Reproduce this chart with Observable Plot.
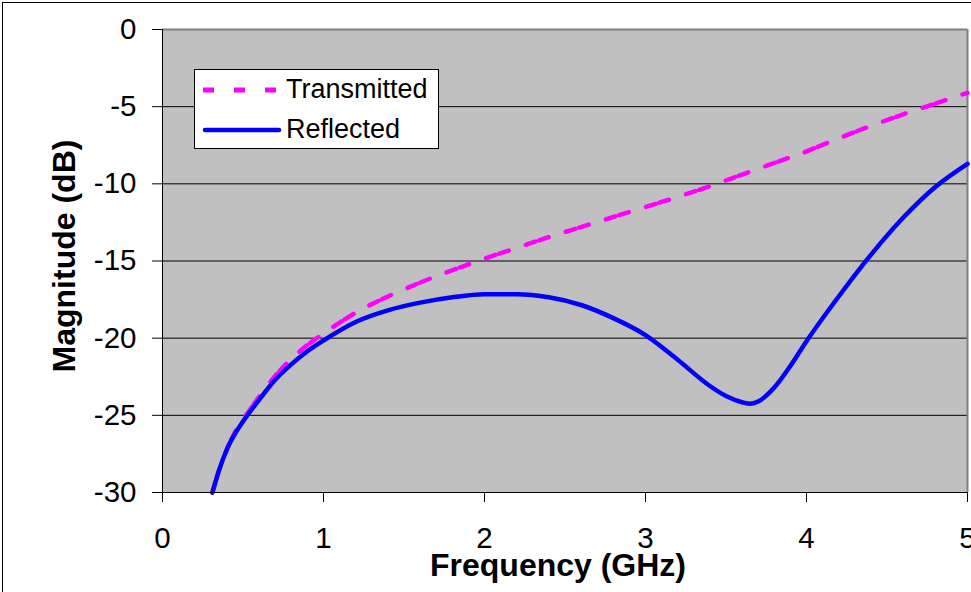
<!DOCTYPE html>
<html>
<head>
<meta charset="utf-8">
<script src="https://cdn.jsdelivr.net/npm/d3@7"></script>
<script src="https://cdn.jsdelivr.net/npm/@observablehq/plot@0.6"></script>
<style>
  html, body { margin: 0; padding: 0; background: #fff; overflow: hidden; }
  #wrap { position: relative; width: 971px; height: 592px; font-family: "Liberation Sans", Arial, sans-serif; }
  #border { position: absolute; left: 2px; top: 2px; width: 2000px; height: 2000px; border-left: 1.5px solid #000; border-top: 1.5px solid #000; pointer-events: none; }
  #legend { position: absolute; left: 194px; top: 69px; width: 245px; height: 80px; box-sizing: border-box; background: #fff; border: 1px solid #000; }
  #legend svg { position: absolute; left: 0; top: 0; }
  .lt { position: absolute; left: 91px; font-size: 27px; line-height: 27px; color: #000; white-space: nowrap; }
</style>
</head>
<body>
<div id="wrap">
  <div id="chart"></div>
  <div id="border"></div>
  <div id="legend">
    <svg width="245" height="80">
      <line x1="8" x2="84" y1="20" y2="20" stroke="#ff00ff" stroke-width="5" stroke-dasharray="11,20"></line>
      <line x1="10" x2="84" y1="60" y2="60" stroke="#0000ff" stroke-width="4.5" stroke-linecap="round"></line>
    </svg>
    <div class="lt" id="lt0" style="top:6px"></div>
    <div class="lt" id="lt1" style="top:46px"></div>
  </div>
</div>
<script>
// ---- data ----
const seriesNames = ["Transmitted", "Reflected"];

const freqT = [0.31, 0.35, 0.4, 0.45, 0.5, 0.6, 0.7, 0.8, 0.9, 1.0, 1.2, 1.4, 1.6, 1.8, 2.0,
               2.2, 2.4, 2.6, 2.8, 3.0, 3.2, 3.4, 3.6, 3.8, 4.0, 4.2, 4.4, 4.6, 4.8, 5.0];
const magT  = [-30, -28.6, -27.2, -26.1, -25.3, -23.8, -22.45, -21.35, -20.45, -19.7, -18.35, -17.3, -16.4, -15.6, -14.85,
               -14.15, -13.45, -12.8, -12.15, -11.5, -10.85, -10.15, -9.4, -8.65, -7.9, -7.05, -6.25, -5.5, -4.8, -4.1];

const freqR = [0.31, 0.35, 0.4, 0.45, 0.5, 0.6, 0.7, 0.8, 0.9, 1.0, 1.2, 1.4, 1.6, 1.8, 2.0,
               2.2, 2.4, 2.6, 2.8, 3.0, 3.2, 3.4, 3.5, 3.6, 3.65, 3.7, 3.8, 3.9, 4.0, 4.2, 4.4, 4.6, 4.8, 5.0];
const magR  = [-30, -28.6, -27.2, -26.2, -25.4, -24.0, -22.7, -21.7, -20.85, -20.15, -18.95, -18.2, -17.7, -17.35, -17.15,
               -17.15, -17.35, -17.85, -18.7, -19.8, -21.4, -23.1, -23.75, -24.15, -24.25, -24.1, -23.2, -21.8, -20.2, -17.3, -14.6, -12.2, -10.2, -8.7];

const xTicks = [0, 1, 2, 3, 4, 5];
const xTickLabels = ["0", "1", "2", "3", "4", "5"];
const yTicks = [0, -5, -10, -15, -20, -25, -30];
const yTickLabels = ["0", "-5", "-10", "-15", "-20", "-25", "-30"];
const xTitle = "Frequency (GHz)";
const yTitle = "Magnitude (dB)";

// ---- build tables ----
const dataT = freqT.map((f, i) => ({f, v: magT[i]}));
const dataR = freqR.map((f, i) => ({f, v: magR[i]}));
const gridVals = yTicks.filter(v => v !== 0 && v !== -30);

const chart = Plot.plot({
  width: 971,
  height: 592,
  marginLeft: 162,
  marginTop: 29,
  marginRight: 4,
  marginBottom: 100,
  x: {domain: [0, 5]},
  y: {domain: [-30, 0]},
  style: {fontFamily: "'Liberation Sans', Arial, sans-serif", background: "transparent", color: "#000", overflow: "visible"},
  marks: [
    Plot.frame({fill: "#c0c0c0", stroke: null}),
    Plot.ruleY(gridVals, {stroke: "#000", strokeWidth: 1}),
    Plot.ruleY([0], {stroke: "#808080", strokeWidth: 2}),
    Plot.ruleX([5], {stroke: "#808080", strokeWidth: 2}),
    Plot.line(dataT, {x: "f", y: "v", stroke: "#ff00ff", strokeWidth: 4.5, strokeDasharray: "10,4,10,18", curve: "monotone-x"}),
    Plot.line(dataR, {x: "f", y: "v", stroke: "#0000ff", strokeWidth: 4.5, curve: "monotone-x"}),
    Plot.ruleX([0], {stroke: "#000", strokeWidth: 1}),
    Plot.ruleY([-30], {stroke: "#000", strokeWidth: 1}),
    Plot.axisX({ticks: xTicks, tickSize: 10, tickPadding: 25, fontSize: 29.5, label: null,
                tickFormat: d => xTickLabels[xTicks.indexOf(d)]}),
    Plot.axisY({ticks: yTicks, tickSize: 10, tickPadding: 16, fontSize: 29.5, label: null,
                tickFormat: d => yTickLabels[yTicks.indexOf(d)]}),
    Plot.text([xTitle], {frameAnchor: "bottom", dx: -7, dy: 83, lineAnchor: "bottom", textAnchor: "middle", fontSize: 32, fontWeight: "bold", fill: "#000"}),
    Plot.text([yTitle], {frameAnchor: "left", dx: -88, dy: -5, rotate: -90, lineAnchor: "bottom", textAnchor: "middle", fontSize: 32, fontWeight: "bold", fill: "#000"})
  ]
});
document.getElementById("chart").appendChild(chart);
document.getElementById("lt0").textContent = seriesNames[0];
document.getElementById("lt1").textContent = seriesNames[1];
</script>
</body>
</html>
